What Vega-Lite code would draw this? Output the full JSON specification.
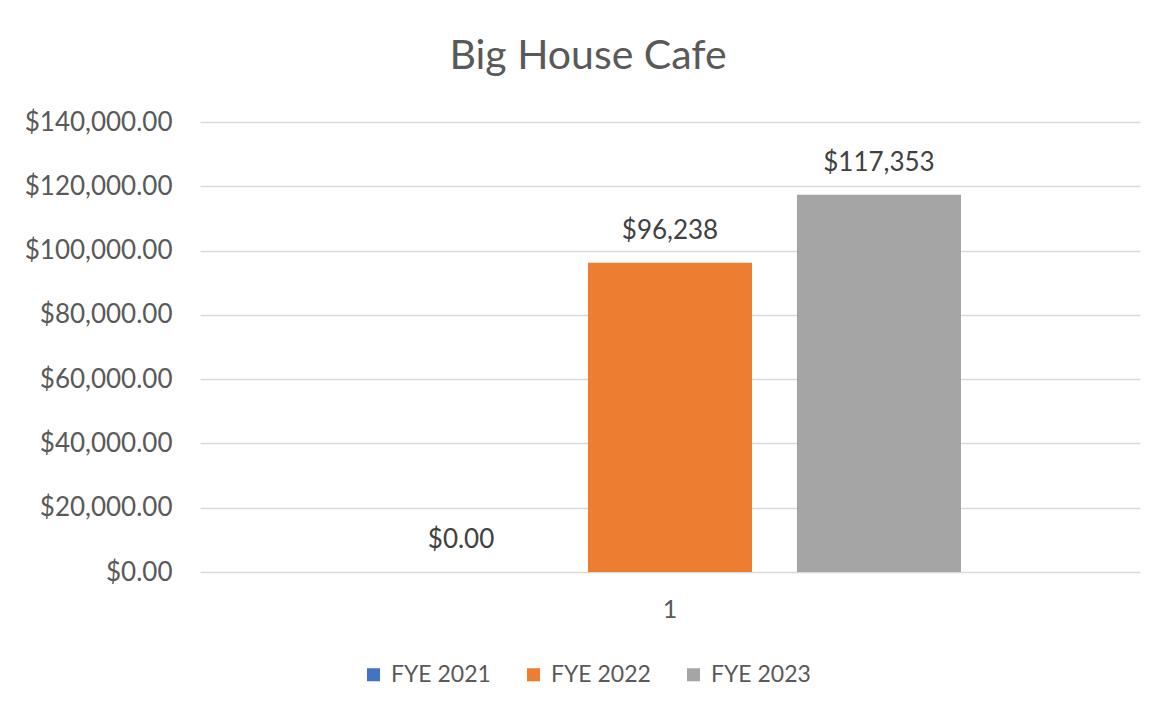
{
  "$schema": "https://vega.github.io/schema/vega-lite/v6.json",
  "autosize": {"type": "none"},
  "width": 940,
  "height": 450,
  "padding": {"left": 200, "top": 122, "right": 32, "bottom": 151},
  "background": "white",
  "config": {"view": {"stroke": null}},
  "title": {"text": "Big House Cafe", "font": "Lato", "fontSize": 41, "fontWeight": "normal", "color": "#595959", "offset": 31, "anchor": "middle", "dx": -82},
  "data": {"values": [
    {"cat": "1", "series": "FYE 2021", "value": 0, "label": "$0.00"},
    {"cat": "1", "series": "FYE 2022", "value": 96238, "label": "$96,238"},
    {"cat": "1", "series": "FYE 2023", "value": 117353, "label": "$117,353"}
  ]},
  "encoding": {
    "x": {"field": "cat", "type": "nominal", "scale": {"paddingInner": 0, "paddingOuter": 0.3076},
      "axis": {"title": null, "labelAngle": 0, "ticks": false, "domain": false, "labelPadding": 25, "labelFont": "Lato", "labelFontSize": 25, "labelColor": "#595959"}},
    "xOffset": {"field": "series", "type": "nominal", "scale": {"paddingInner": 0.215, "paddingOuter": 0}},
    "y": {"field": "value", "type": "quantitative", "scale": {"domain": [0, 140000], "nice": false},
      "axis": {"title": null, "values": [0, 20000, 40000, 60000, 80000, 100000, 120000, 140000], "format": "$,.2f", "ticks": false, "domain": false, "labelPadding": 28, "labelFont": "Lato", "labelFontSize": 26, "labelColor": "#595959", "gridColor": "#d9d9d9", "gridWidth": 1.5}}
  },
  "layer": [
    {
      "mark": {"type": "bar"},
      "encoding": {
        "color": {"field": "series", "type": "nominal",
          "scale": {"domain": ["FYE 2021", "FYE 2022", "FYE 2023"], "range": ["#4472C4", "#ED7D31", "#A5A5A5"]},
          "legend": {"title": null, "orient": "none", "direction": "horizontal", "legendX": 162, "legendY": 541, "symbolType": "square", "symbolSize": 170, "symbolStrokeWidth": 0, "labelFont": "Lato", "labelFontSize": 23, "labelColor": "#595959", "columnPadding": 31, "labelOffset": 6}}
      }
    },
    {
      "mark": {"type": "text", "baseline": "middle", "dy": -32, "font": "Lato", "fontSize": 26, "color": "#404040"},
      "encoding": {"text": {"field": "label"}}
    }
  ]
}
